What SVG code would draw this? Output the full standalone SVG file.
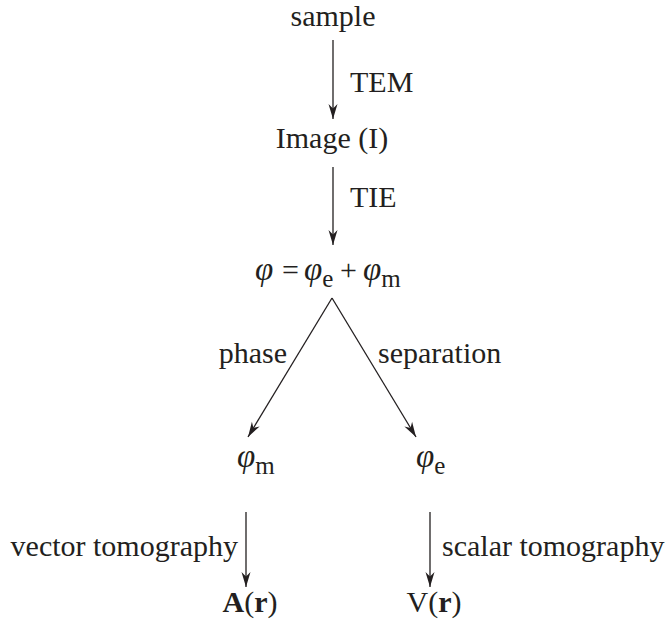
<svg xmlns="http://www.w3.org/2000/svg" width="668" height="623" viewBox="0 0 668 623">
<style>
text{font-family:"Liberation Serif","Times New Roman",serif;font-size:30px;fill:#231f20}
.g{font-style:italic;font-size:33px}
.s{font-size:25px;font-style:normal}
.b{font-weight:bold}
.c{stroke:#231f20;stroke-width:1.3;fill:none}
</style>
<defs>
<marker id="ah" markerUnits="userSpaceOnUse" markerWidth="18" markerHeight="12" viewBox="-16 -6 18 12" refX="0" refY="0" orient="auto">
<path d="M0,0 L-15,-4.5 L-10.5,0 L-15,4.5 Z" fill="#231f20"/>
</marker>
</defs>
<g id="sample"><text x="333" y="26" text-anchor="middle">sample</text></g>
<g id="image"><text x="332" y="148" text-anchor="middle">Image (I)</text></g>
<g id="phi"><text x="255" y="280"><tspan class="g">φ</tspan><tspan x="282">=</tspan><tspan class="g" x="304">φ</tspan><tspan class="s" dy="7">e</tspan><tspan dy="-7" x="340">+</tspan><tspan class="g" x="363">φ</tspan><tspan class="s" dy="7">m</tspan></text></g>
<g id="phim"><text x="237" y="467"><tspan class="g">φ</tspan><tspan class="s" dy="7">m</tspan></text></g>
<g id="phie"><text x="416" y="467"><tspan class="g">φ</tspan><tspan class="s" dy="7">e</tspan></text></g>
<g id="Ar"><text x="250" y="612" text-anchor="middle"><tspan class="b">A</tspan>(<tspan class="b">r</tspan>)</text></g>
<g id="Vr"><text x="434" y="612" text-anchor="middle">V(<tspan class="b">r</tspan>)</text></g>
<g id="connectors">
<line class="c" x1="333" y1="40" x2="333" y2="119" marker-end="url(#ah)"/>
<line class="c" x1="333" y1="167" x2="333" y2="245" marker-end="url(#ah)"/>
<line class="c" x1="332" y1="298" x2="248" y2="437" marker-end="url(#ah)"/>
<line class="c" x1="332" y1="298" x2="416" y2="437" marker-end="url(#ah)"/>
<line class="c" x1="246" y1="512" x2="246" y2="587" marker-end="url(#ah)"/>
<line class="c" x1="430" y1="512" x2="430" y2="587" marker-end="url(#ah)"/>
<text x="350" y="92">TEM</text>
<text x="350" y="207">TIE</text>
<text x="287" y="363" text-anchor="end">phase</text>
<text x="378" y="363">separation</text>
<text x="238" y="556" text-anchor="end">vector tomography</text>
<text x="442" y="556">scalar tomography</text>
</g>
</svg>
